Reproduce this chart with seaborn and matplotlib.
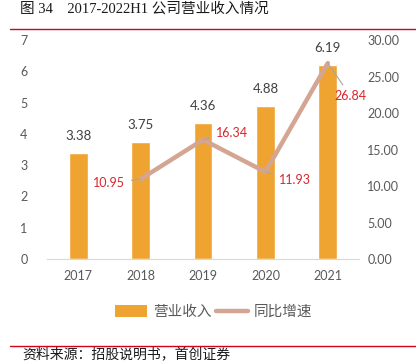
import numpy as np
import pandas as pd
import matplotlib
matplotlib.use("Agg")
import matplotlib.pyplot as plt
import seaborn as sns
from matplotlib.lines import Line2D
from matplotlib.patches import Patch

# ---- data ----
years = ["2017", "2018", "2019", "2020", "2021"]
revenue = [3.38, 3.75, 4.36, 4.88, 6.19]
growth_years = ["2018", "2019", "2020", "2021"]
growth = [10.95, 16.34, 11.93, 26.84]
left_ticks = [0, 1, 2, 3, 4, 5, 6, 7]
right_ticks = [0, 5, 10, 15, 20, 25, 30]

title = "图 34    2017-2022H1 公司营业收入情况"
source = "资料来源：招股说明书，首创证券"
legend_labels = ["营业收入", "同比增速"]

BAR_C = "#EFA431"
LINE_C = "#D4A592"
TXT_C = "#595959"
RED = "#D9262B"

sns.set_style("white")
plt.rcParams["font.family"] = ["Lato", "Noto Sans CJK SC", "DejaVu Sans"]

fig = plt.figure(figsize=(4.16, 3.61), dpi=100)
ax = fig.add_axes([0.113, 0.2825, 0.75, 0.6066])

df = pd.DataFrame({"year": years, "revenue": revenue})
sns.barplot(data=df, x="year", y="revenue", color=BAR_C, width=0.3,
            saturation=1, ax=ax, zorder=2)
ax.set_ylim(0, 7)
ax.set_xlim(-0.5, 4.5)
ax.set_yticks(left_ticks)
ax.set_yticklabels([str(t) for t in left_ticks])
ax.set_xlabel("")
ax.set_ylabel("")
for s in ["top", "right", "left"]:
    ax.spines[s].set_visible(False)
ax.spines["bottom"].set_color("#D9D9D9")
ax.spines["bottom"].set_linewidth(0.8)
ax.tick_params(axis="both", length=0, labelsize=9, colors=TXT_C, pad=8)
ax.tick_params(axis="y", pad=14)

for i, v in enumerate(revenue):
    ax.annotate(f"{v:.2f}", (i, v), xytext=(0, 8), textcoords="offset points",
                ha="center", va="bottom", fontsize=9.5, color="#404040")

ax2 = ax.twinx()
gx = [years.index(y) for y in growth_years]
gdf = pd.DataFrame({"x": gx, "growth": growth})
sns.lineplot(data=gdf, x="x", y="growth", color=LINE_C, linewidth=3.2, ax=ax2,
             solid_capstyle="round", zorder=3)
ax2.set_xlim(-0.5, 4.5)
ax2.set_ylim(0, 30)
ax2.set_yticks(right_ticks)
ax2.set_yticklabels([f"{t:.2f}" for t in right_ticks])
ax2.set_ylabel("")
ax2.set_xlabel("")
for s in ["top", "right", "left", "bottom"]:
    ax2.spines[s].set_visible(False)
ax2.tick_params(axis="y", length=0, labelsize=9, colors=TXT_C, pad=6)

# growth labels with leader lines (offsets in points)
offs = [(-11, -3), (9, 5), (10, -6), (5, -24)]
for x, v, (dx, dy) in zip(gx, growth, offs):
    ha = "right" if dx < 0 else "left"
    ax2.annotate(f"{v:.2f}", (x, v), xytext=(dx, dy), textcoords="offset points",
                 ha=ha, va="center", fontsize=9, color=RED,
                 arrowprops=dict(arrowstyle="-", color="#A6A6A6", lw=0.8,
                                 shrinkA=2, shrinkB=0), zorder=4)

# legend
handles = [Patch(facecolor=BAR_C, edgecolor="none"),
           Line2D([0], [0], color=LINE_C, lw=3.2)]
fig.legend(handles, legend_labels, loc="center", bbox_to_anchor=(214 / 416, 1 - 312 / 361),
           ncol=2, frameon=False, handlelength=2.2, handleheight=0.8,
           columnspacing=0.3, handletextpad=0.4, labelcolor=TXT_C,
           prop={"family": ["Noto Sans CJK SC"], "size": 10.5})

# title and source
fig.text(20 / 416, 1 - 9 / 361, title, ha="left", va="center", fontsize=10.5,
         color="#1a1a1a", family=["Liberation Serif", "Noto Sans CJK SC"])
fig.add_artist(Line2D([10 / 416, 1], [1 - 29 / 361] * 2, color="#D0021B", lw=1.0))
fig.add_artist(Line2D([10 / 416, 1], [1 - 346 / 361] * 2, color="#D0021B", lw=1.0))
fig.text(22 / 416, 1 - 354 / 361, source, ha="left", va="center", fontsize=10,
         style="italic", color="#1a1a1a", family=["Noto Sans CJK SC"])

fig.savefig("out.png", dpi=100)
